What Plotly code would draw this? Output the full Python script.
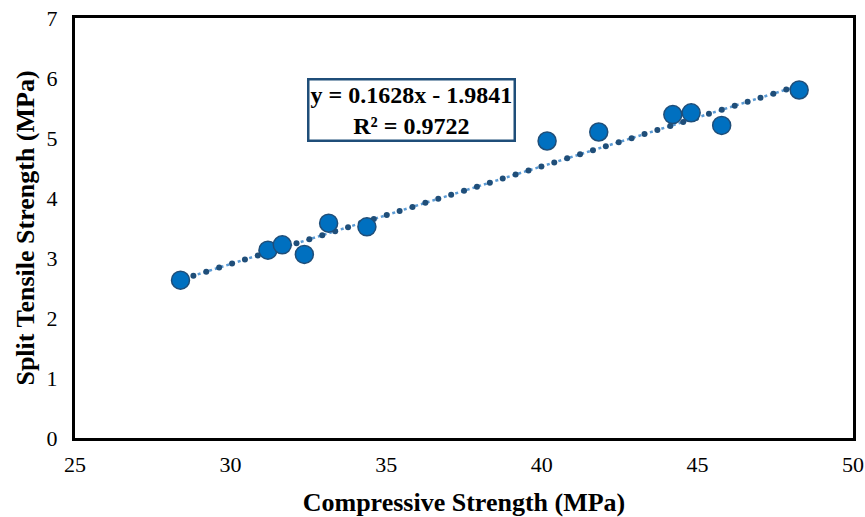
import numpy as np
import plotly.graph_objects as go

compressive = [28.39, 31.20, 31.66, 32.37, 33.15, 34.38, 40.17, 41.83, 44.21, 44.80, 45.78, 48.27]
split_tensile = [2.63, 3.13, 3.22, 3.06, 3.58, 3.52, 4.95, 5.10, 5.39, 5.42, 5.21, 5.80]
slope = 0.1628
intercept = -1.9841
r_squared = 0.9722
x_ticks = [25, 30, 35, 40, 45, 50]
y_ticks = [0, 1, 2, 3, 4, 5, 6, 7]

serif = "Liberation Serif, Times New Roman, serif"

xs = np.array(compressive)
tx = np.linspace(xs.min(), xs.max(), 49)
ty = slope * tx + intercept

fig = go.Figure()
fig.add_trace(go.Scatter(x=[tx[0], tx[-1]], y=[ty[0], ty[-1]], mode="lines",
                         line=dict(color="#5B9BD5", width=2.5, dash="dot"),
                         showlegend=False, hoverinfo="skip"))
fig.add_trace(go.Scatter(x=tx, y=ty, mode="markers",
                         marker=dict(color="#1F4E79", size=6, line=dict(width=0)),
                         showlegend=False, hoverinfo="skip"))
fig.add_trace(go.Scatter(x=compressive, y=split_tensile, mode="markers",
                         marker=dict(color="#0070C0", size=18,
                                     line=dict(color="#1F4E79", width=1.5)),
                         showlegend=False))

fig.add_annotation(x=35.8, y=5.47, xref="x", yref="y",
                   text=f"y = {slope}x - {abs(intercept)}<br>R² = {r_squared}",
                   showarrow=False, align="center",
                   font=dict(family=serif, size=24, color="black", weight="bold"),
                   bordercolor="#1F4E79", borderwidth=2.5, borderpad=1,
                   bgcolor="white")

fig.update_layout(
    width=865, height=517,
    margin=dict(l=75, r=12, t=18, b=79),
    plot_bgcolor="white", paper_bgcolor="white",
    font=dict(family=serif, size=22, color="black"),
    xaxis=dict(range=[25, 50], tickvals=x_ticks, showgrid=False, zeroline=False,
               showline=True, linecolor="black", linewidth=3, mirror=True,
               ticks="", tickfont=dict(size=22, family=serif), automargin=False,
               ticklabeloverflow="allow", ticklabelstandoff=5,
               title=dict(text="<b>Compressive Strength (MPa)</b>",
                          font=dict(size=26, family=serif), standoff=24)),
    yaxis=dict(range=[0, 7], tickvals=y_ticks, showgrid=False, zeroline=False,
               showline=True, linecolor="black", linewidth=3, mirror=True,
               ticks="", tickfont=dict(size=22, family=serif), automargin=False,
               ticklabelstandoff=10,
               title=dict(text="<b>Split Tensile Strength (MPa)</b>",
                          font=dict(size=26, family=serif), standoff=5)),
)

fig.write_html("out.html", config={"displayModeBar": False},
               post_script="document.body.style.margin='0px';document.body.style.overflow='hidden';")
